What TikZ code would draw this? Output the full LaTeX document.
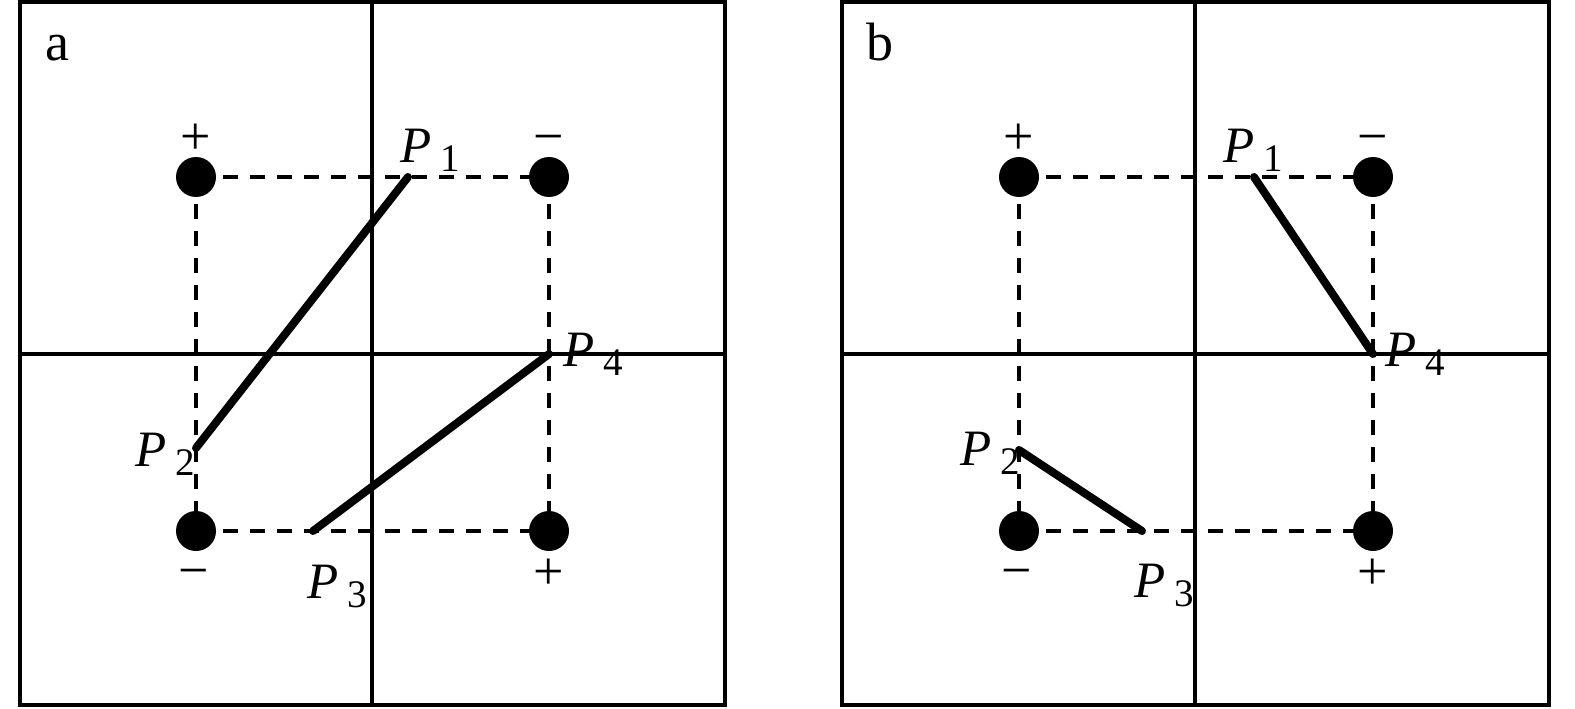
\documentclass[tikz,border=0pt]{standalone}
\usepackage{fontspec}
\setmainfont{Liberation Serif}
\newcommand\plab[1]{\textit{P}\kern9pt\raisebox{-9pt}{\fontsize{39}{39}\selectfont #1}}
\begin{document}
\begin{tikzpicture}[x=1pt,y=-1pt,
  frame/.style={line width=4pt},
  axisline/.style={line width=3.6pt},
  guide/.style={line width=3.2pt, dash pattern=on 15pt off 12pt},
  seg/.style={line width=8pt, line cap=round},
  dot/.style={circle, fill=black, minimum size=40pt, inner sep=0pt},
  sign/.style={font=\fontsize{54}{54}\selectfont, inner sep=0pt, anchor=base},
  lbl/.style={font=\fontsize{51}{51}\selectfont, inner sep=0pt, anchor=base west},
  panellbl/.style={font=\fontsize{54}{54}\selectfont, inner sep=0pt, anchor=base west}]
\useasboundingbox (0,0) rectangle (1575,709);

% ---------- panel a ----------
\draw[frame] (20,2) rectangle (725,705.3);
\draw[axisline] (372,2) -- (372,705.3);
\draw[axisline] (20,354) -- (725,354);
\node[panellbl] (la) at (45,60) {a};

\coordinate (aTL) at (196,177);
\coordinate (aTR) at (549,177);
\coordinate (aBL) at (196,531);
\coordinate (aBR) at (549,531);
\draw[guide] (aTL) -- (aTR);
\draw[guide] (aBL) -- (aBR);
\draw[guide] (aTL) -- (aBL);
\draw[guide] (aTR) -- (aBR);

\coordinate (aP1) at (408,177);
\coordinate (aP2) at (196,448);
\coordinate (aP3) at (313,531);
\coordinate (aP4) at (549,354);
\draw[seg] (aP1) -- (aP2);
\draw[seg] (aP3) -- (aP4);

\node[dot] (daTL) at (aTL) {};
\node[dot] (daTR) at (aTR) {};
\node[dot] (daBL) at (aBL) {};
\node[dot] (daBR) at (aBR) {};

\node[sign] (saTL) at (196,154) {+};
\node[sign] (saTR) at (549,154) {−};
\node[sign] (saBL) at (194,588) {−};
\node[sign] (saBR) at (549,589) {+};

\node[lbl] (laP1) at (400,162) {\plab{1}};
\node[lbl] (laP2) at (135,466) {\plab{2}};
\node[lbl] (laP3) at (307,598) {\plab{3}};
\node[lbl] (laP4) at (563,366) {\plab{4}};

% ---------- panel b ----------
\draw[frame] (842,2) rectangle (1549,705.3);
\draw[axisline] (1195,2) -- (1195,705.3);
\draw[axisline] (842,354) -- (1549,354);
\node[panellbl] (lb) at (866,60) {b};

\coordinate (bTL) at (1019,177);
\coordinate (bTR) at (1373,177);
\coordinate (bBL) at (1019,531);
\coordinate (bBR) at (1373,531);
\draw[guide] (bTL) -- (bTR);
\draw[guide] (bBL) -- (bBR);
\draw[guide] (bTL) -- (bBL);
\draw[guide] (bTR) -- (bBR);

\coordinate (bP1) at (1254,177);
\coordinate (bP2) at (1019,450);
\coordinate (bP3) at (1142,531);
\coordinate (bP4) at (1373,354);
\draw[seg] (bP1) -- (bP4);
\draw[seg] (bP2) -- (bP3);

\node[dot] (dbTL) at (bTL) {};
\node[dot] (dbTR) at (bTR) {};
\node[dot] (dbBL) at (bBL) {};
\node[dot] (dbBR) at (bBR) {};

\node[sign] (sbTL) at (1019,154) {+};
\node[sign] (sbTR) at (1373,154) {−};
\node[sign] (sbBL) at (1017,588) {−};
\node[sign] (sbBR) at (1373,589) {+};

\node[lbl] (lbP1) at (1223,162) {\plab{1}};
\node[lbl] (lbP2) at (960,465) {\plab{2}};
\node[lbl] (lbP3) at (1134,597) {\plab{3}};
\node[lbl] (lbP4) at (1385,366) {\plab{4}};
\end{tikzpicture}
\end{document}
